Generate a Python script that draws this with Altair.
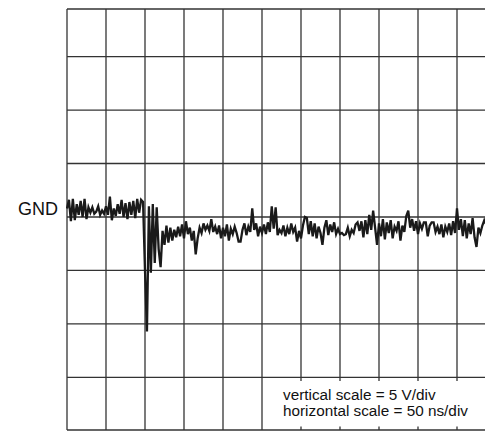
import altair as alt
import pandas as pd

# Oscilloscope trace: volts vs. time (ns), sampled every 2.5 ns
step_ns = 2.5
volts = [
    0.8, 1.6, -0.4, 1.7, -0.3, 1.2, 0.2, 1.5, 0.0, 1.7,
    -0.2, 0.9, 0.4, 0.9, 0.3, 0.5, 1.0, 0.2, 0.6, 0.3,
    1.0, 0.2, 1.9, -0.3, 0.8, 0.1, 1.2, 0.3, 1.6, 0.0,
    1.3, -0.2, 1.4, 0.2, 1.5, -0.1, 1.7, 0.4, 1.6, 1.4,
    -5.0, -10.7, 1.0, -5.2, 1.2, -4.3, 0.9, -3.0, -4.7, -1.3,
    -2.6, -0.8, -2.4, -1.0, -2.2, -1.2, -1.9, -0.9, -1.8, -0.7,
    -2.0, -0.4, -1.6, -1.0, -2.2, -1.3, -3.5, -2.0, -1.0, -1.5,
    -0.6, -1.2, -0.8, -1.3, -0.2, -1.4, -0.9, -1.6, -0.8, -2.0,
    -1.0, -1.8, -0.7, -2.2, -1.1, -1.6, -0.9, -1.5, -2.3, -2.3,
    -1.2, -0.6, -1.7, -0.9, -1.4, 0.8, -1.2, -0.6, -1.8, -0.9,
    -1.5, -0.7, -1.6, -0.5, -1.4, 1.0, -1.1, 0.9, -1.7, -1.2,
    -1.5, -0.8, -1.8, -1.0, -1.6, -0.6, -1.4, -1.0, -2.3, -1.3,
    -2.0, -0.8, 0.0, -0.1, -1.6, -0.4, -1.8, -0.6, -2.0, -0.9,
    -1.5, -2.6, -1.0, -0.3, -1.7, -0.7, -1.4, -0.5, -1.6, -1.1,
    -1.6, -1.5, -1.7, -1.6, -1.0, -1.8, -1.2, -1.5, -0.7, -0.5,
    -1.3, -0.4, -1.9, -0.3, -1.6, 0.2, -1.2, 0.6, -1.0, -2.6,
    -0.6, -1.8, -0.2, -2.1, -0.5, -1.5, -0.3, -2.0, -0.9, -1.3,
    -0.4, -2.2, -0.8, -1.4, 0.1, 0.6, -1.0, -0.2, -1.3, -0.4,
    -1.6, -0.6, -1.1, -0.5, -0.5, -1.8, -0.8, -0.5, -0.5, -1.4,
    -0.9, -1.6, -0.7, -1.9, -0.9, -1.4, -0.6, -1.7, -0.4, -1.5,
    0.8, -1.2, -0.2, -1.8, -0.3, -2.0, -0.6, -1.6, -0.1, -1.9,
    -2.8, -1.0, -1.5, -0.8, -0.3, -0.7, -0.6, -0.8, -0.7,
]
times = [i * step_ns for i in range(len(volts))]

# Graticule (50 ns/div, 5 V/div)
grid_t = [0, 50, 100, 150, 200, 250, 300, 350, 400, 450, 500]
grid_v = [-15, -10, -5, 0, 5, 10, 15]

x_dom = [0, 535.9]
y_dom = [-19.92, 19.45]
border_v = [y_dom[0], y_dom[1]]

notes = ["vertical scale = 5 V/div", "horizontal scale = 50 ns/div"]
note_v = [-17.15, -18.65]

trace = pd.DataFrame({"t": times, "v": volts})
xs = alt.Scale(domain=x_dom, nice=False, zero=False)
ys = alt.Scale(domain=y_dom, nice=False, zero=False)

grid_col = "#333333"

vlines = alt.Chart(pd.DataFrame({"t": grid_t})).mark_rule(
    color=grid_col, strokeWidth=1.3
).encode(x=alt.X("t:Q", scale=xs, axis=None))

hlines = alt.Chart(pd.DataFrame({"v": grid_v + border_v})).mark_rule(
    color=grid_col, strokeWidth=1.3
).encode(y=alt.Y("v:Q", scale=ys, axis=None))

box = alt.Chart(pd.DataFrame({"t1": [252.6], "t2": [560.0], "v1": [-15.33], "v2": [-19.6]})).mark_rect(
    color="white"
).encode(
    x=alt.X("t1:Q", scale=xs, axis=None), x2="t2:Q",
    y=alt.Y("v1:Q", scale=ys, axis=None), y2="v2:Q",
)

note_text = alt.Chart(pd.DataFrame({"t": [276.9, 276.9], "v": note_v, "s": notes})).mark_text(
    align="left", baseline="alphabetic", fontSize=15.3, font="Liberation Sans", color="#111111"
).encode(
    x=alt.X("t:Q", scale=xs, axis=None),
    y=alt.Y("v:Q", scale=ys, axis=None),
    text="s:N",
)

gnd = alt.Chart(pd.DataFrame({"t": [-11.5], "v": [0.14], "s": ["GND"]})).mark_text(
    align="right", baseline="alphabetic", fontSize=18, font="Liberation Sans", color="#111111"
).encode(
    x=alt.X("t:Q", scale=xs, axis=None),
    y=alt.Y("v:Q", scale=ys, axis=None),
    text="s:N",
)

line = alt.Chart(trace).mark_line(color="#1a1a1a", strokeWidth=2.3, strokeJoin="miter").encode(
    x=alt.X("t:Q", scale=xs, axis=None),
    y=alt.Y("v:Q", scale=ys, axis=None),
)

chart = alt.layer(vlines, hlines, box, note_text, line, gnd).properties(
    width=418,
    height=421,
    autosize=alt.AutoSizeParams(type="none"),
    padding={"left": 59, "top": 1, "right": 0, "bottom": 1},
).configure_view(strokeWidth=0)

chart.save("out.html", embed_options={"renderer": "svg", "actions": False})
